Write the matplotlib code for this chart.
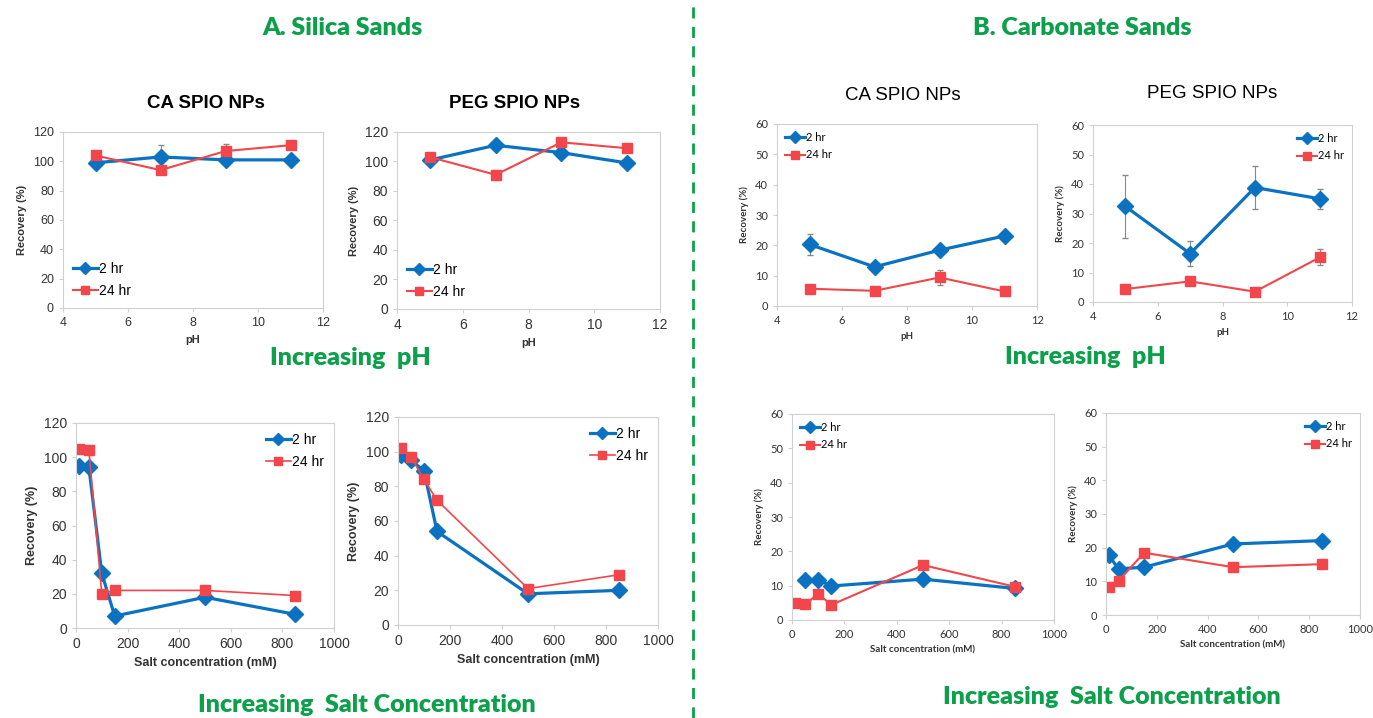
import numpy as np
import matplotlib.pyplot as plt
from matplotlib.lines import Line2D

plt.rcParams['font.family'] = ['Liberation Sans', 'DejaVu Sans']

# 데이터: pH 실험
ph = [5, 7, 9, 11]
salt = [10, 50, 100, 150, 500, 850]

# A. Silica sands - CA SPIO, pH
a_ca_ph_2 = [99, 103, 101, 101]
a_ca_ph_2_err = [1, 8, 1, 1]
a_ca_ph_24 = [104, 94, 107, 111]
a_ca_ph_24_err = [1, 1, 5, 1]
# A. Silica sands - PEG SPIO, pH
a_peg_ph_2 = [101, 111, 106, 99]
a_peg_ph_24 = [103, 91, 113, 109]
# A. Silica sands - CA SPIO, salt
a_ca_salt_2 = [95, 94, 32, 7, 18, 8]
a_ca_salt_24 = [105, 104, 20, 22, 22, 19]
# A. Silica sands - PEG SPIO, salt
a_peg_salt_2 = [98, 95, 89, 54, 18, 20]
a_peg_salt_24 = [102, 97, 84, 72, 21, 29]

# B. Carbonate sands - CA SPIO, pH
b_ca_ph_2 = [20.3, 12.9, 18.4, 23.1]
b_ca_ph_2_err = [3.5, 1.0, 1.0, 1.0]
b_ca_ph_24 = [5.7, 5.0, 9.4, 4.8]
b_ca_ph_24_err = [0.8, 0.5, 2.5, 0.5]
# B. Carbonate sands - PEG SPIO, pH
b_peg_ph_2 = [32.4, 16.4, 38.8, 35.0]
b_peg_ph_2_err = [10.7, 4.2, 7.2, 3.4]
b_peg_ph_24 = [4.4, 7.0, 3.5, 15.1]
b_peg_ph_24_err = [0.6, 0.8, 0.6, 2.7]
# B. Carbonate sands - CA SPIO, salt (2 hr 10 mM 없음)
b_ca_salt_x2 = [50, 100, 150, 500, 850]
b_ca_salt_2 = [11.7, 11.7, 9.9, 11.9, 9.2]
b_ca_salt_24 = [4.9, 4.6, 7.6, 4.4, 16.0, 9.7]
# B. Carbonate sands - PEG SPIO, salt
b_peg_salt_x = [10, 50, 150, 500, 850]
b_peg_salt_2 = [17.7, 13.7, 14.2, 21.1, 22.1]
b_peg_salt_24 = [8.2, 10.2, 18.5, 14.2, 15.1]

BLUE = '#0b72c2'
RED = '#f2464a'
GREEN = '#0ca04b'
W, H = 1373, 718

fig = plt.figure(figsize=(13.73, 7.18), dpi=100)


def box(x0, x1, y0, y1):
    # 픽셀 좌표 -> figure 비율
    return [x0 / W, 1 - y1 / H, (x1 - x0) / W, (y1 - y0) / H]


def panel(rect, x2, y2, x24, y24, xlim, xticks, ylim, yticks, xlabel,
          e2=None, e24=None, leg_loc='lower left', fs=9, lfs=9, lab_fs=8,
          font=None, lw2=2.3, lw24=1.5, ms=8):
    ax = fig.add_axes(rect)
    kw = {}
    if font:
        kw['family'] = font
    ax.errorbar(x2, y2, yerr=e2, color=BLUE, marker='D', ms=ms, lw=lw2,
                ecolor='#888888', elinewidth=0.8, capsize=2, label='2 hr')
    ax.errorbar(x24, y24, yerr=e24, color=RED, marker='s', ms=ms - 0.5, lw=lw24,
                ecolor='#888888', elinewidth=0.8, capsize=2, label='24 hr')
    ax.set_xlim(*xlim)
    ax.set_ylim(*ylim)
    ax.set_xticks(xticks)
    ax.set_yticks(yticks)
    for s in ax.spines.values():
        s.set_color('#d0d0d0')
    ax.tick_params(colors='#d0d0d0', labelcolor='#333333', labelsize=fs,
                   length=3)
    for t in ax.get_xticklabels() + ax.get_yticklabels():
        if font:
            t.set_family(font)
    ax.set_xlabel(xlabel, fontsize=lab_fs, fontweight='bold', color='#333333', **kw)
    ax.set_ylabel('Recovery (%)', fontsize=lab_fs, fontweight='bold', color='#333333', **kw)
    handles = [Line2D([], [], color=BLUE, marker='D', ms=ms - 2, lw=lw2),
               Line2D([], [], color=RED, marker='s', ms=ms - 2, lw=lw24)]
    ax.legend(handles, ['2 hr', '24 hr'], loc=leg_loc, frameon=False,
              handlelength=1.8, handletextpad=0.1,
              labelspacing=0.6, borderaxespad=0.3,
              prop={'size': lfs, **kw})
    return ax


ph_ticks = [4, 6, 8, 10, 12]
salt_ticks = [0, 200, 400, 600, 800, 1000]

# A. Silica
panel(box(63, 323, 132, 308), ph, a_ca_ph_2, ph, a_ca_ph_24, (4, 12), ph_ticks,
      (0, 120), range(0, 121, 20), 'pH', e2=a_ca_ph_2_err, e24=a_ca_ph_24_err,
      leg_loc='lower left', fs=9, lfs=10, lab_fs=8)
panel(box(397, 660, 132, 309), ph, a_peg_ph_2, ph, a_peg_ph_24, (4, 12), ph_ticks,
      (0, 120), range(0, 121, 20), 'pH', leg_loc='lower left', fs=10, lfs=10,
      lab_fs=8)
panel(box(76, 334, 423, 628), salt, a_ca_salt_2, salt, a_ca_salt_24, (0, 1000),
      salt_ticks, (0, 120), range(0, 121, 20), 'Salt concentration (mM)',
      leg_loc='upper right', fs=10, lfs=10, lab_fs=9, lw24=1.2)
panel(box(398, 658, 417, 625), salt, a_peg_salt_2, salt, a_peg_salt_24, (0, 1000),
      salt_ticks, (0, 120), range(0, 121, 20), 'Salt concentration (mM)',
      leg_loc='upper right', fs=10, lfs=10, lab_fs=9, lw24=1.2)

# B. Carbonate
LATO = ['Lato', 'DejaVu Sans']
panel(box(777, 1037, 124, 306), ph, b_ca_ph_2, ph, b_ca_ph_24, (4, 12), ph_ticks,
      (0, 60), range(0, 61, 10), 'pH', e2=b_ca_ph_2_err, e24=b_ca_ph_24_err,
      leg_loc='upper left', fs=8, lfs=8, lab_fs=7, font=LATO)
panel(box(1093, 1352, 125, 302), ph, b_peg_ph_2, ph, b_peg_ph_24, (4, 12), ph_ticks,
      (0, 60), range(0, 61, 10), 'pH', e2=b_peg_ph_2_err, e24=b_peg_ph_24_err,
      leg_loc='upper right', fs=8, lfs=8, lab_fs=7, font=LATO)
panel(box(792, 1054, 414, 620), b_ca_salt_x2, b_ca_salt_2, salt, b_ca_salt_24,
      (0, 1000), salt_ticks, (0, 60), range(0, 61, 10), 'Salt concentration (mM)',
      leg_loc='upper left', fs=8, lfs=8, lab_fs=7, font=LATO)
panel(box(1106, 1360, 413, 615), b_peg_salt_x, b_peg_salt_2, b_peg_salt_x,
      b_peg_salt_24, (0, 1000), salt_ticks, (0, 60), range(0, 61, 10),
      'Salt concentration (mM)', leg_loc='upper right', fs=8, lfs=8, lab_fs=7,
      font=LATO)


# 제목 및 주석
def ftext(x, y, s, **kw):
    fig.text(x / W, 1 - y / H, s, ha='center', va='center', **kw)


green_kw = dict(color=GREEN, fontsize=18, fontweight='heavy', family=['Lato', 'DejaVu Sans'])
ftext(342, 28, 'A. Silica Sands', **green_kw)
ftext(1082, 28, 'B. Carbonate Sands', **green_kw)
ftext(350, 358, 'Increasing  pH', **green_kw)
ftext(1085, 357, 'Increasing  pH', **green_kw)
ftext(367, 705, 'Increasing  Salt Concentration', **green_kw)
ftext(1112, 697, 'Increasing  Salt Concentration', **green_kw)

ftext(206, 103, 'CA SPIO NPs', fontsize=13.5, fontweight='bold')
ftext(515, 103, 'PEG SPIO NPs', fontsize=13.5, fontweight='bold')
ftext(903, 95, 'CA SPIO NPs', fontsize=13.5)
ftext(1212, 93, 'PEG SPIO NPs', fontsize=13.5)

fig.add_artist(Line2D([693 / W, 693 / W], [0, 1], color=GREEN, lw=2,
                      ls=(0, (4, 3))))

plt.savefig('out.png', dpi=100)
